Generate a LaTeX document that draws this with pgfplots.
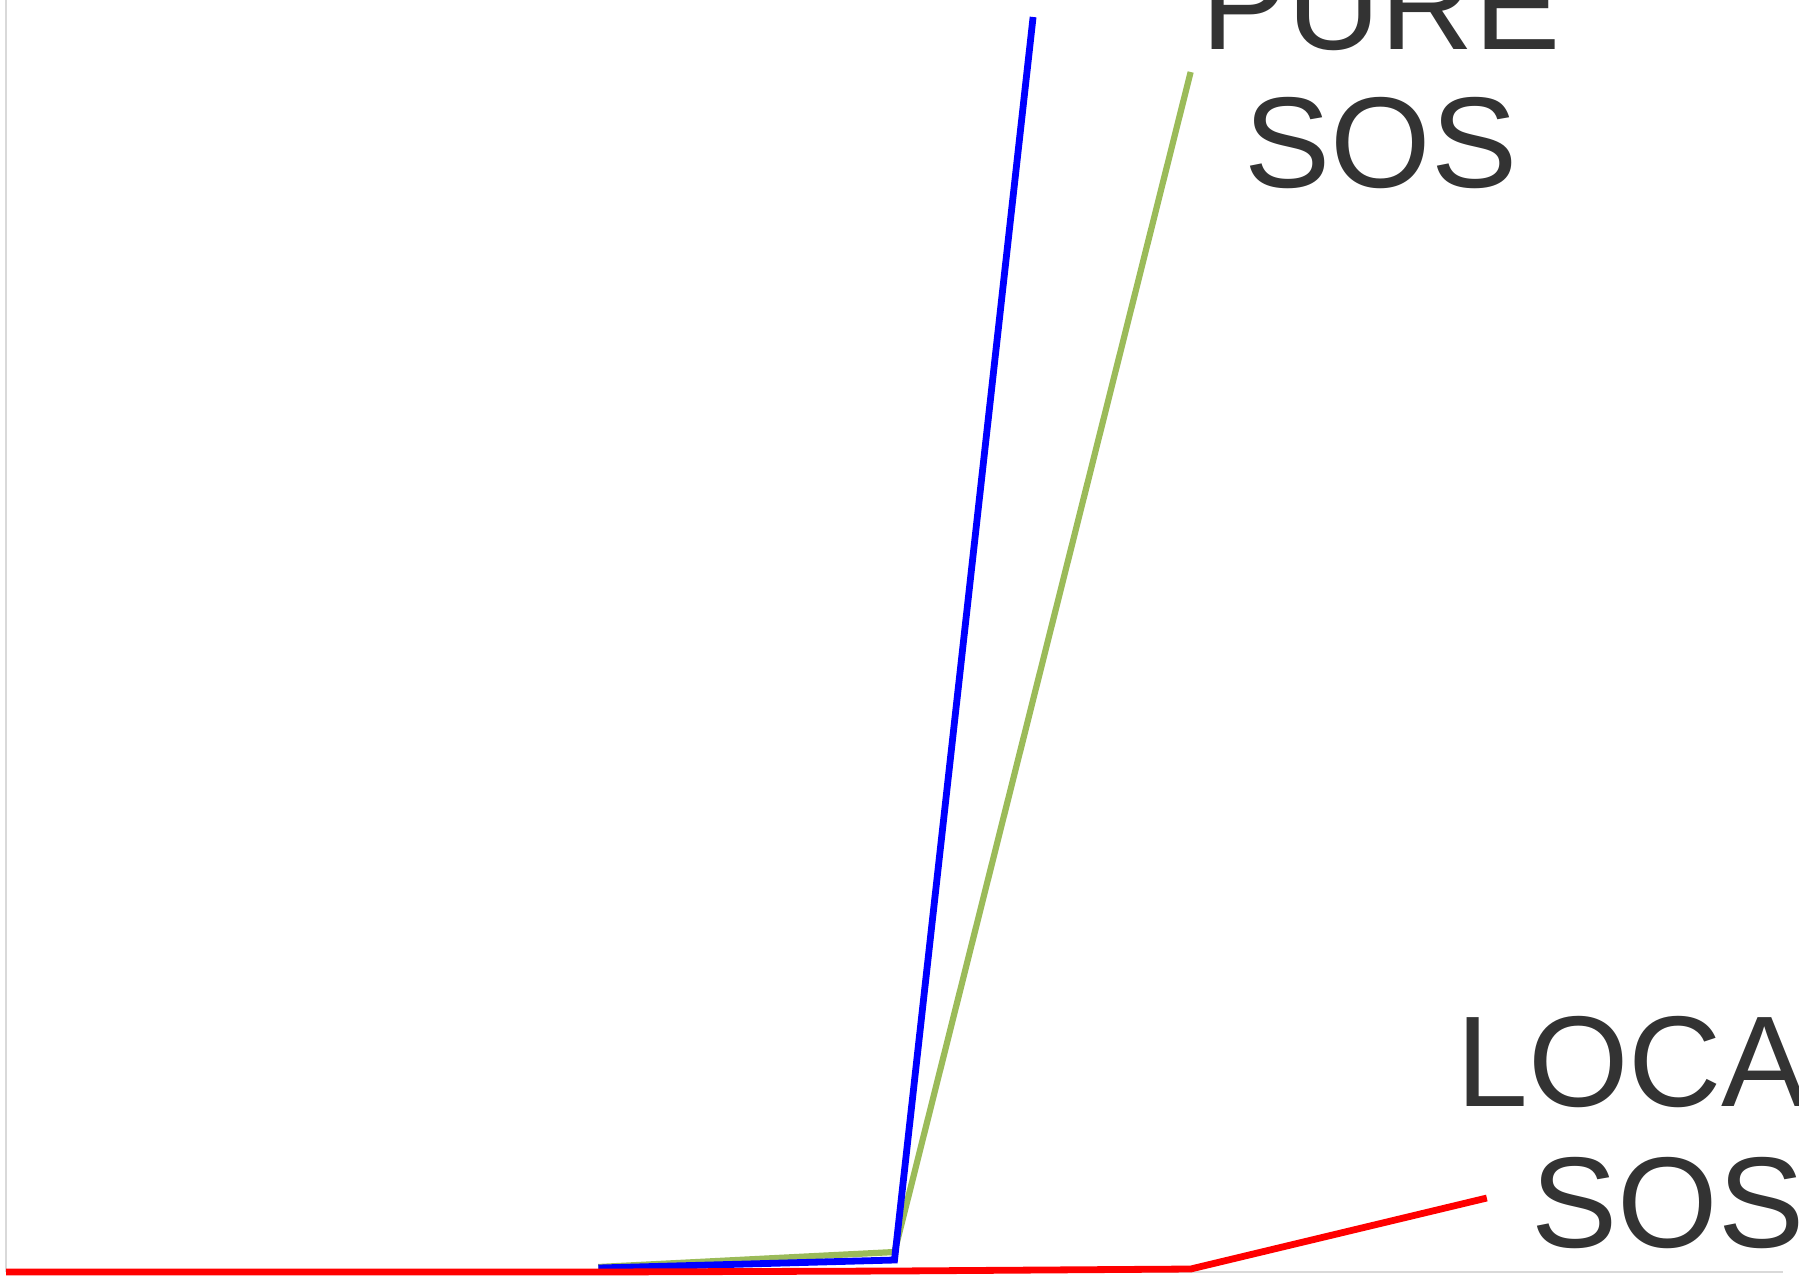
\documentclass[border=0pt]{standalone}
\usepackage{fontspec}
\setmainfont{Liberation Sans}
\usepackage{pgfplots}
\pgfplotsset{compat=1.18}
\definecolor{cblue}{HTML}{0000FF}
\definecolor{cgreen}{HTML}{9BBB59}
\definecolor{cred}{HTML}{FF0000}
\definecolor{axgrey}{HTML}{D9D9D9}
\definecolor{txt}{HTML}{333333}
\begin{document}
\begin{tikzpicture}
\useasboundingbox (0,0) rectangle (449.75pt,319.75pt);
\clip (0,0) rectangle (449.75pt,319.75pt);
\begin{axis}[
  at={(1.5pt,1.75pt)}, anchor=south west,
  scale only axis, width=444.25pt, height=325pt,
  xmin=0, xmax=6, ymin=0, ymax=1300,
  axis x line*=bottom, axis y line*=left,
  axis line style={-, draw=axgrey, line width=0.5pt},
  xtick=\empty, ytick=\empty,
  clip=false,
]
\addplot[cgreen, line width=1.55pt] coordinates {(2,5) (3,20) (4,1200)};
\addplot[cblue, line width=1.7pt] coordinates {(2,4) (3,12) (3.468,1255)};
\addplot[cred, line width=1.7pt] coordinates {(0,0) (1,0) (2,0) (3,1) (4,3) (5,74)};
\end{axis}
\tikzset{lbl/.style={anchor=base, text=txt, inner sep=0pt, font=\fontsize{32.3}{36}\selectfont}}
\node[lbl] at (345.25pt,307.5pt) {PURE};
\node[lbl] at (345.25pt,273pt) {SOS};
\node[lbl] at (417pt,43.25pt) {LOCAL};
\node[lbl] at (417pt,8pt) {SOS};
\end{tikzpicture}
\end{document}
